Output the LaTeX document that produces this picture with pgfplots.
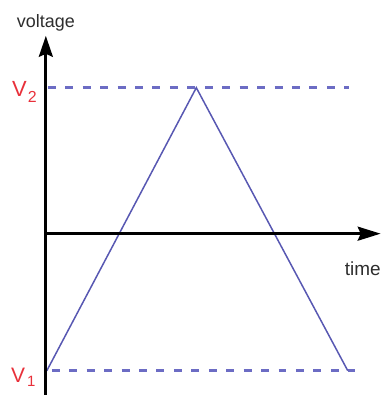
\documentclass[border=0pt]{standalone}
\usepackage{pgfplots}
\pgfplotsset{compat=1.18}
\usepackage{fontspec}
\setmainfont{Liberation Sans}
\usetikzlibrary{arrows.meta}
\definecolor{vred}{RGB}{232,48,58}
\definecolor{tri}{RGB}{88,88,178}
\definecolor{dashblue}{RGB}{108,108,196}
\definecolor{txt}{RGB}{45,45,45}
\begin{document}
\begin{tikzpicture}
\begin{axis}[
  width=385pt, height=396pt, scale only axis,
  xmin=0, xmax=385, ymin=0, ymax=396,
  hide axis, clip=false,
]
\path (axis cs:0,0) rectangle (axis cs:385,396);
% dashed reference levels
\addplot[color=dashblue, line width=2.5pt, dash pattern=on 8pt off 9.5pt] coordinates {(48,308) (350,308)};
\addplot[color=dashblue, line width=2.5pt, dash pattern=on 8pt off 9.5pt] coordinates {(52,24) (356,24)};
% triangle wave
\addplot[color=tri, line width=1.5pt] coordinates {(47,24) (197,308) (349,24)};
% axes
\addplot[black, line width=2.8pt, -{Stealth[length=21pt,width=14pt,inset=3pt]}] coordinates {(46,0) (46,360)};
\addplot[black, line width=2.8pt, -{Stealth[length=23pt,width=14pt,inset=3pt]}] coordinates {(45,161.5) (382,161.5)};
% labels
\node[anchor=base, text=txt, inner sep=0pt, font=\fontsize{18}{20}\selectfont] at (axis cs:46,368) {voltage};
\node[anchor=base, text=txt, inner sep=0pt, font=\fontsize{19}{21}\selectfont] at (axis cs:364,120) {time};
\node[anchor=base west, text=vred, inner sep=0pt] at (axis cs:12,299) {\fontsize{22}{24}\selectfont V\kern1pt\raisebox{-6pt}{\fontsize{16}{18}\selectfont 2}};
\node[anchor=base west, text=vred, inner sep=0pt] at (axis cs:11,12.5) {\fontsize{21}{24}\selectfont V\kern2pt\raisebox{-4pt}{\fontsize{15}{18}\selectfont 1}};
\end{axis}
\end{tikzpicture}
\end{document}
